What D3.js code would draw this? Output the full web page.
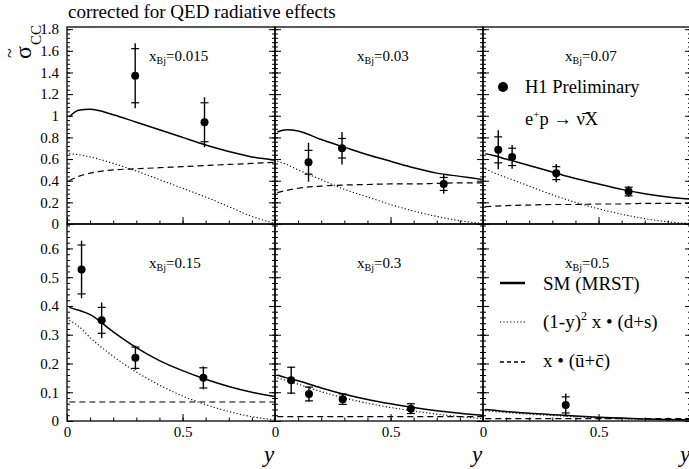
<!DOCTYPE html>
<html>
<head>
<meta charset="utf-8">
<script src="https://cdn.jsdelivr.net/npm/d3@7"></script>
<style>
  body { margin: 0; background: #fff; }
  svg, svg text { font-family: 'Liberation Serif', 'DejaVu Serif', 'Times New Roman', Times, serif; fill: #000; }
</style>
</head>
<body>
<div id="chart"></div>
<script>
// one panel per x_Bj bin
const xBins = ["0.015", "0.03", "0.07", "0.15", "0.3", "0.5"]

// y values where the theory curves are sampled
const curveY = [0.01, 0.05, 0.1, 0.2, 0.3, 0.4, 0.5, 0.6, 0.7, 0.8, 0.9]
// SM (MRST)
const smCurve = [
  [0.99, 1.05, 1.06, 1.01, 0.94, 0.87, 0.80, 0.73, 0.67, 0.62, 0.59],
  [0.85, 0.87, 0.86, 0.78, 0.71, 0.64, 0.58, 0.52, 0.47, 0.44, 0.41],
  [0.65, 0.63, 0.60, 0.54, 0.48, 0.42, 0.37, 0.32, 0.28, 0.25, 0.23],
  [0.395, 0.385, 0.37, 0.31, 0.255, 0.21, 0.175, 0.145, 0.12, 0.10, 0.085],
  [0.16, 0.15, 0.14, 0.115, 0.093, 0.075, 0.06, 0.047, 0.036, 0.027, 0.02],
  [0.04, 0.037, 0.033, 0.027, 0.022, 0.017, 0.013, 0.01, 0.007, 0.005, 0.004]
]
// (1-y)^2 x (d+s)
const dsCurve = [
  [0.65, 0.64, 0.62, 0.56, 0.49, 0.41, 0.33, 0.25, 0.16, 0.07, 0.005],
  [0.58, 0.55, 0.50, 0.41, 0.32, 0.25, 0.18, 0.12, 0.07, 0.03, 0.005],
  [0.51, 0.47, 0.43, 0.35, 0.27, 0.20, 0.14, 0.09, 0.05, 0.02, 0.005],
  [0.35, 0.33, 0.29, 0.225, 0.17, 0.125, 0.087, 0.057, 0.033, 0.015, 0.004],
  [0.15, 0.14, 0.128, 0.102, 0.08, 0.062, 0.047, 0.035, 0.024, 0.015, 0.008],
  [0.036, 0.033, 0.03, 0.024, 0.019, 0.015, 0.011, 0.008, 0.006, 0.004, 0.003]
]
// x (ubar+cbar)
const ucCurve = [
  [0.40, 0.44, 0.47, 0.50, 0.51, 0.52, 0.53, 0.54, 0.55, 0.56, 0.57],
  [0.29, 0.31, 0.33, 0.35, 0.36, 0.365, 0.37, 0.37, 0.375, 0.38, 0.38],
  [0.16, 0.165, 0.17, 0.175, 0.18, 0.18, 0.185, 0.185, 0.19, 0.19, 0.19],
  [0.066, 0.066, 0.066, 0.066, 0.066, 0.066, 0.066, 0.066, 0.066, 0.066, 0.066],
  [0.015, 0.015, 0.015, 0.015, 0.015, 0.015, 0.015, 0.015, 0.015, 0.015, 0.015],
  [0.008, 0.008, 0.008, 0.008, 0.008, 0.008, 0.008, 0.008, 0.008, 0.008, 0.008]
]

// H1 preliminary points
const dataY = [
  [0.295, 0.595],
  [0.145, 0.29, 0.73],
  [0.066, 0.126, 0.317, 0.63],
  [0.063, 0.15, 0.296, 0.59],
  [0.07, 0.147, 0.293, 0.588],
  [0.358]
]
const dataSigma = [
  [1.37, 0.94],
  [0.57, 0.70, 0.37],
  [0.685, 0.62, 0.47, 0.30],
  [0.527, 0.35, 0.22, 0.15],
  [0.142, 0.094, 0.076, 0.043],
  [0.056]
]
const statErr = [
  [0.25, 0.18],
  [0.11, 0.09, 0.06],
  [0.12, 0.08, 0.06, 0.04],
  [0.085, 0.045, 0.037, 0.035],
  [0.045, 0.024, 0.018, 0.017],
  [0.028]
]
const totErr = [
  [0.30, 0.23],
  [0.18, 0.15, 0.09],
  [0.18, 0.11, 0.085, 0.05],
  [0.10, 0.062, 0.042, 0.04],
  [0.047, 0.026, 0.019, 0.018],
  [0.04]
]

// tick labels
const yTicksTop = [0, 0.2, 0.4, 0.6, 0.8, 1, 1.2, 1.4, 1.6, 1.8]
const yTicksBottom = [0, 0.1, 0.2, 0.3, 0.4, 0.5, 0.6]
const xTicks = [0, 0.5]

const serif = "'Liberation Serif', 'DejaVu Serif', serif"
const width = 689
const height = 469
const marginLeft = 67      // left edge of the first column
const panelW = 208         // width of one panel
const rowTop = [27, 224]   // top of each row
const rowH = 197           // height of one row
const yMax = [1.82, 0.685] // top of the y range per row

const svg = d3.select("#chart")
  .append("svg")
  .attr("width", width)
  .attr("height", height)
  .attr("font-family", serif)

// title
svg.append("text")
  .attr("x", 68)
  .attr("y", 18)
  .attr("font-size", 19)
  .text("corrected for QED radiative effects")

// y title, sigma tilde CC
const yt = svg.append("g").attr("transform", "translate(31,59) rotate(-90)")
yt.append("text").attr("x", 0).attr("y", 0).attr("font-size", 24).text("σ")
yt.append("text").attr("x", 1).attr("y", -15).attr("font-size", 18).text("~")
yt.append("text").attr("x", 14).attr("y", 10).attr("font-size", 15).text("CC")

const line = d3.line().curve(d3.curveMonotoneX)

xBins.forEach((bin, p) => {
  const col = p % 3
  const row = Math.floor(p / 3)
  const x0 = marginLeft + col * panelW
  const top = rowTop[row]
  const bottom = top + rowH

  const xScale = d3.scaleLinear([0, 0.9], [x0, x0 + panelW])
  const yScale = d3.scaleLinear([0, yMax[row]], [bottom, top])
  const g = svg.append("g")

  // 框
  g.append("rect")
    .attr("x", x0).attr("y", top)
    .attr("width", panelW).attr("height", rowH)
    .attr("fill", "none").attr("stroke", "#000").attr("stroke-width", 1.3)

  const majorY = row === 0 ? yTicksTop : yTicksBottom
  const minorStep = row === 0 ? 0.04 : 0.02
  const minorY = d3.range(0, yMax[row], minorStep)

  // 左轴 (labels only on the first column)
  g.append("g")
    .attr("transform", `translate(${x0},0)`)
    .call(d3.axisLeft(yScale).tickValues(minorY).tickSize(-3).tickFormat(""))
    .call(a => a.select(".domain").remove())
  g.append("g")
    .attr("transform", `translate(${x0},0)`)
    .call(d3.axisLeft(yScale).tickValues(majorY).tickSizeInner(-6).tickSizeOuter(0)
      .tickPadding(8).tickFormat(d => col === 0 ? String(d) : ""))
    .call(a => a.select(".domain").remove())
    .attr("font-family", serif)
    .attr("font-size", 15)

  // 右轴
  g.append("g")
    .attr("transform", `translate(${x0 + panelW},0)`)
    .call(d3.axisRight(yScale).tickValues(minorY).tickSize(-3).tickFormat(""))
    .call(a => a.select(".domain").remove())
  g.append("g")
    .attr("transform", `translate(${x0 + panelW},0)`)
    .call(d3.axisRight(yScale).tickValues(majorY).tickSize(-6).tickFormat(""))
    .call(a => a.select(".domain").remove())

  // X轴
  g.append("g")
    .attr("transform", `translate(0,${bottom})`)
    .call(d3.axisBottom(xScale).tickValues(d3.range(0.1, 0.9, 0.1)).tickSize(-3.5).tickFormat(""))
    .call(a => a.select(".domain").remove())
  g.append("g")
    .attr("transform", `translate(0,${bottom})`)
    .call(d3.axisBottom(xScale).tickValues(xTicks).tickSizeInner(-7).tickSizeOuter(0)
      .tickPadding(5).tickFormat(d => row === 1 ? String(d) : ""))
    .call(a => a.select(".domain").remove())
    .attr("font-family", serif)
    .attr("font-size", 15)

  if (row === 1) {
    g.append("text")
      .attr("x", x0 + panelW - 6)
      .attr("y", 462)
      .attr("text-anchor", "middle")
      .attr("font-size", 23)
      .attr("font-style", "italic")
      .text("y")
  }

  // x_Bj label
  const lab = g.append("text")
    .attr("x", x0 + 82)
    .attr("y", row === 0 ? 61 : 268)
    .attr("font-size", 15)
  lab.append("tspan").text("x")
  lab.append("tspan").attr("font-size", 10).attr("dy", 3).text("Bj")
  lab.append("tspan").attr("dy", -3).text("=" + bin)

  // curves
  const curves = [
    {v: smCurve[p], dash: null, w: 1.5},
    {v: dsCurve[p], dash: "1.2,2.2", w: 1.1},
    {v: ucCurve[p], dash: "6,4", w: 1.2}
  ]
  curves.forEach(c => {
    g.append("path")
      .attr("d", line(curveY.map((yy, i) => [xScale(yy), yScale(c.v[i])])))
      .attr("fill", "none")
      .attr("stroke", "#000")
      .attr("stroke-width", c.w)
      .attr("stroke-dasharray", c.dash)
  })

  // 数据点
  const pts = dataY[p].map((yy, i) => ({y: yy, v: dataSigma[p][i], s: statErr[p][i], t: totErr[p][i]}))
  const pg = g.selectAll(".pt").data(pts).enter().append("g")
  pg.append("line")
    .attr("x1", d => xScale(d.y)).attr("x2", d => xScale(d.y))
    .attr("y1", d => yScale(d.v - d.t)).attr("y2", d => yScale(d.v + d.t))
    .attr("stroke", "#000").attr("stroke-width", 1.4)
  ;[-1, 1].forEach(sg => {
    pg.append("line")
      .attr("x1", d => xScale(d.y) - 4).attr("x2", d => xScale(d.y) + 4)
      .attr("y1", d => yScale(d.v + sg * d.s)).attr("y2", d => yScale(d.v + sg * d.s))
      .attr("stroke", "#000").attr("stroke-width", 1.2)
  })
  pg.append("circle")
    .attr("cx", d => xScale(d.y)).attr("cy", d => yScale(d.v))
    .attr("r", 4).attr("fill", "#000")
})

// legend, top right panel
svg.append("circle").attr("cx", 503).attr("cy", 87).attr("r", 5).attr("fill", "#000")
svg.append("text").attr("x", 525).attr("y", 93).attr("font-size", 18.5).text("H1 Preliminary")
const ep = svg.append("text").attr("x", 525).attr("y", 125).attr("font-size", 18.5)
ep.append("tspan").text("e")
ep.append("tspan").attr("font-size", 11).attr("dy", -7).text("+")
ep.append("tspan").attr("dy", 7).text("p → ν\u0304X")

// legend, bottom right panel
const legend = [
  {dash: null, w: 2.5, y: 283},
  {dash: "1.2,2.2", w: 1.2, y: 322},
  {dash: "4,3", w: 1.6, y: 362}
]
legend.forEach(l => {
  svg.append("line")
    .attr("x1", 500).attr("x2", 525).attr("y1", l.y).attr("y2", l.y)
    .attr("stroke", "#000").attr("stroke-width", l.w)
    .attr("stroke-dasharray", l.dash)
})
svg.append("text").attr("x", 543).attr("y", 290).attr("font-size", 19).text("SM (MRST)")
const l2 = svg.append("text").attr("x", 543).attr("y", 328).attr("font-size", 19)
l2.append("tspan").text("(1-y)")
l2.append("tspan").attr("font-size", 12).attr("dy", -8).text("2")
l2.append("tspan").attr("dy", 8).text(" x • (d+s)")
svg.append("text").attr("x", 543).attr("y", 367).attr("font-size", 19).text("x • (u\u0304+c\u0304)")
</script>
</body>
</html>
